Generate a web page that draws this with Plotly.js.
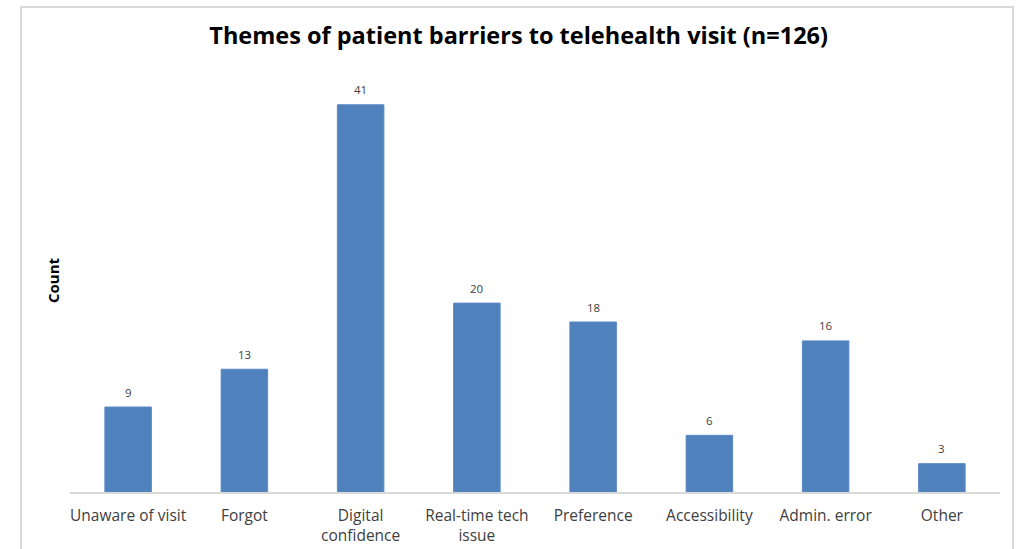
<!DOCTYPE html>
<html>
<head>
<meta charset="utf-8">
<script src="https://cdn.plot.ly/plotly-3.0.1.min.js"></script>
<style>html,body{margin:0;padding:0;background:#fff;}#chart{width:1027px;height:549px;}</style>
</head>
<body>
<div id="chart"></div>
<script>
const categories = ["Unaware of visit", "Forgot", "Digital<br>confidence", "Real-time tech<br>issue", "Preference", "Accessibility", "Admin. error", "Other"];
const counts = [9, 13, 41, 20, 18, 6, 16, 3];
const chartTitle = "Themes of patient barriers to telehealth visit (n=126)";
const yTitle = "Count";

const trace = {
  type: "bar",
  x: categories,
  y: counts,
  width: 0.4,
  marker: {color: "#4F81BD", line: {color: "#5a8ac6", width: 1}},
  hoverinfo: "none"
};

const labelAnnotations = categories.map((c, i) => ({
  x: c, y: counts[i], xref: "x", yref: "y",
  text: String(counts[i]), showarrow: false,
  yanchor: "middle", yshift: 15,
  font: {family: "'Open Sans', sans-serif", size: 11.5, color: "#404040"}
}));

const layout = {
  width: 1027, height: 549,
  margin: {l: 70, r: 27, t: 67, b: 57},
  paper_bgcolor: "#fff", plot_bgcolor: "#fff",
  showlegend: false,
  title: {text: "<b>" + chartTitle + "</b>", x: 0.505, xanchor: "center", y: 0.935, yanchor: "middle",
          font: {family: "'Open Sans', Lato, sans-serif", size: 23.5, color: "#000"}},
  xaxis: {
    type: "category",
    showline: true, linecolor: "#d9d9d9", linewidth: 2,
    ticks: "", showgrid: false, zeroline: false,
    ticklabelstandoff: 8,
    tickfont: {family: "'Open Sans', Lato, sans-serif", size: 15.5, color: "#404040"},
    fixedrange: true
  },
  yaxis: {
    range: [0, 45],
    showticklabels: false, showgrid: false, zeroline: false, showline: false, ticks: "",
    fixedrange: true
  },
  annotations: labelAnnotations.concat([{
    xref: "paper", yref: "paper", x: (53 - 70) / 930, y: (492 - 280) / 425,
    text: "<b>" + yTitle + "</b>", textangle: -90, showarrow: false,
    xanchor: "center", yanchor: "middle",
    font: {family: "'Open Sans', Lato, sans-serif", size: 15, color: "#000"}
  }]),
  shapes: [{
    type: "rect", xref: "paper", yref: "paper",
    x0: -0.0527, x1: 1.014, y0: -0.2, y1: 1.1412,
    line: {color: "#d9d9d9", width: 2}, fillcolor: "rgba(0,0,0,0)", layer: "below"
  }]
};

Plotly.newPlot("chart", [trace], layout, {displayModeBar: false, staticPlot: true});
</script>
</body>
</html>
